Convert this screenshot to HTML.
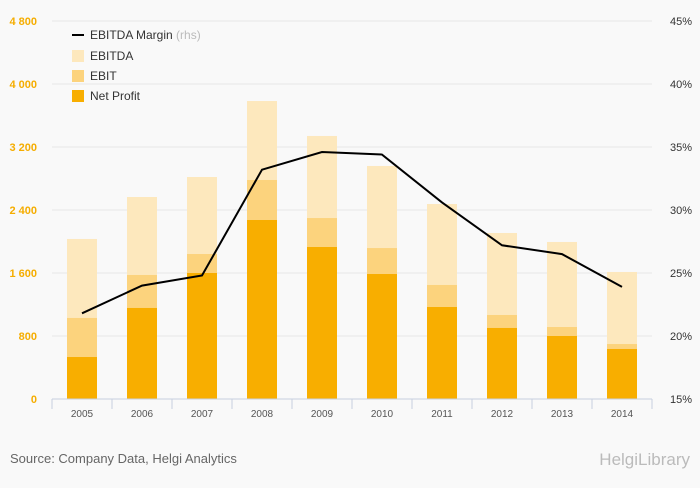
<!DOCTYPE html>
<html><head><meta charset="utf-8"><style>
body{margin:0;background:#f9f9f9;font-family:"Liberation Sans",sans-serif}
svg text{font-family:"Liberation Sans",sans-serif}
</style></head><body>
<svg id="c" width="700" height="483" style="background:#f9f9f9">
<g id="grid"></g><g id="bars"></g><g id="line"></g><g id="axes"></g>
<g>
<line x1="72" y1="35" x2="84" y2="35" stroke="#000" stroke-width="2"/>
<text x="90" y="39" font-size="12" fill="#333">EBITDA Margin <tspan fill="#bbb">(rhs)</tspan></text>
<rect x="72" y="50" width="12" height="12" fill="#fde8bd"/>
<text x="90" y="60" font-size="12" fill="#333">EBITDA</text>
<rect x="72" y="70" width="12" height="12" fill="#fcd37d"/>
<text x="90" y="80" font-size="12" fill="#333">EBIT</text>
<rect x="72" y="90" width="12" height="12" fill="#f8ae00"/>
<text x="90" y="100" font-size="12" fill="#333">Net Profit</text>
</g>
<text x="10" y="463" font-size="13" fill="#666">Source: Company Data, Helgi Analytics</text>
<text x="690" y="465" font-size="17" fill="#bbb" text-anchor="end">HelgiLibrary</text>
</svg>
<script>
const years=["2005","2006","2007","2008","2009","2010","2011","2012","2013","2014"];
const ebitda=[2032,2565,2819,3784,3340,2959,2476,2108,1994,1613];
const ebit=[1029,1575,1841,2781,2298,1917,1448,1067,914,698];
const netProfit=[533,1156,1600,2273,1930,1587,1168,902,800,635];
const margin=[21.8,24.0,24.8,33.2,34.6,34.4,30.6,27.2,26.5,23.9];
const leftTicks=[0,800,1600,2400,3200,4000,4800];
const rightTicks=[15,20,25,30,35,40,45];
const NS="http://www.w3.org/2000/svg";
const X0=52,X1=652,Y0=399,Y1=21;
const step=(X1-X0)/years.length;
const xc=i=>X0+step*(i+0.5);
const yL=v=>Y0-(v/4800)*(Y0-Y1);
const yR=v=>Y0-((v-15)/30)*(Y0-Y1);
function mk(tag,attrs,parent,text){const e=document.createElementNS(NS,tag);for(const k in attrs)e.setAttribute(k,attrs[k]);if(text!==undefined)e.textContent=text;document.getElementById(parent).appendChild(e);return e;}
leftTicks.forEach((t,i)=>{
 const g=mk("line",{x1:X0,x2:X1,y1:yL(t),y2:yL(t),stroke:"#e6e6e6"},"grid");
 
 
 const l=mk("text",{x:37,y:yL(t)+4,"font-size":11,"font-weight":"bold",fill:"#f5ad00","text-anchor":"end"},"axes",t.toLocaleString("en-US").replace(",","\u00a0"));
 
 
});
rightTicks.forEach(t=>{
 const l=mk("text",{x:692,y:yR(t)+4,"font-size":11,fill:"#333","text-anchor":"end"},"axes",t+"%");
 
 
});
const ax=mk("line",{x1:X0,x2:X1,y1:Y0,y2:Y0,stroke:"#c8d0e0"},"axes");


for(let i=0;i<=years.length;i++){const t=mk("line",{x1:X0+step*i,x2:X0+step*i,y1:Y0,y2:Y0+10,stroke:"#c8d0e0"},"axes");
 
 }
const bw=30;
years.forEach((y,i)=>{
 const x=xc(i)-bw/2;
 [[ebitda,"#fde8bd","bar-ebitda"],[ebit,"#fcd37d","bar-ebit"],[netProfit,"#f8ae00","bar-net-profit"]].forEach(([arr,c,n])=>{
  const r=mk("rect",{x:x,y:yL(arr[i]),width:bw,height:Y0-yL(arr[i]),fill:c},"bars");
  
  
 });
 const l=mk("text",{x:xc(i),y:Y0+18,"font-size":10,fill:"#555","text-anchor":"middle"},"axes",y);
 
 
});
const pl=mk("polyline",{points:margin.map((m,i)=>xc(i)+","+yR(m)).join(" "),fill:"none",stroke:"#000","stroke-width":2},"line");


</script>
</body></html>
